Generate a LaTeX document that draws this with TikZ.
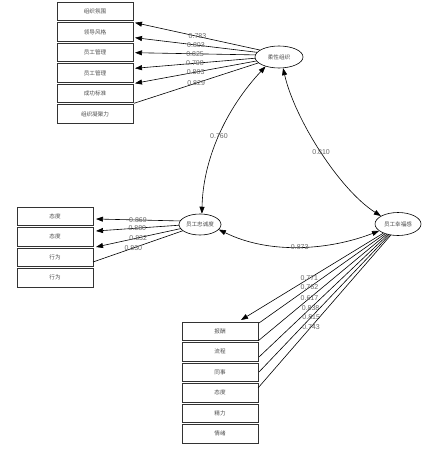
\documentclass[tikz,border=0pt]{standalone}
\usepackage{fontspec}
\setmainfont{Liberation Sans}
\newfontfamily\cjk{Noto Sans CJK SC}
\usepackage{tikz}
\usetikzlibrary{positioning}
\usetikzlibrary{math}
\usetikzlibrary{calc}
\usetikzlibrary{arrows.meta}
\usetikzlibrary{shapes.geometric}

\begin{document}
\begin{tikzpicture}[x=1pt,y=-1pt,line width=0.6pt,
  item/.style={draw=black!80, line width=0.5pt, minimum width=\boxw pt, minimum height=\boxh pt,
    inner sep=0pt, outer sep=0pt, text=black!70, font=\cjk\fontsize{5.6}{6}\selectfont},
  latent/.style={ellipse, draw=black, line width=0.6pt, inner sep=0pt,
    text=black!70, font=\cjk\fontsize{5.6}{6}\selectfont},
  load/.style={-{Triangle[length=7pt,width=5pt]}},
  corr/.style={{Triangle[length=7pt,width=5pt]}-{Triangle[length=7pt,width=5pt]}, line width=0.6pt},
  coef/.style={inner sep=0pt, text=black!60, font=\fontsize{7}{8}\selectfont}]

  \tikzmath{
    \boxw = 76;   % width of the indicator boxes
    \boxh = 18.5; % height of the indicator boxes
    \gap  = 2;    % space between stacked boxes
  }

  \useasboundingbox (0,0) rectangle (435,454);

  % latent variables
  \node[latent, minimum width=48pt, minimum height=22pt] (rou)   at (279,57)    {柔性组织};
  \node[latent, minimum width=42pt, minimum height=21pt] (zhong) at (200,224.5) {员工忠诚度};
  \node[latent, minimum width=46pt, minimum height=23pt] (xing)  at (398,224)   {员工幸福感};

  % indicators of the flexible organisation
  \node[item] (org1) at (95,11.5) {组织氛围};
  \node[item, below=\gap pt of org1] (org2) {领导风格};
  \node[item, below=\gap pt of org2] (org3) {员工管理};
  \node[item, below=\gap pt of org3] (org4) {员工管理};
  \node[item, below=\gap pt of org4] (org5) {成功标准};
  \node[item, below=\gap pt of org5] (org6) {组织凝聚力};

  % indicators of loyalty
  \node[item] (loy1) at (55,216) {态度};
  \node[item, below=\gap pt of loy1] (loy2) {态度};
  \node[item, below=\gap pt of loy2] (loy3) {行为};
  \node[item, below=\gap pt of loy3] (loy4) {行为};

  % indicators of well-being
  \node[item] (wel1) at (220,331) {报酬};
  \node[item, below=\gap pt of wel1] (wel2) {流程};
  \node[item, below=\gap pt of wel2] (wel3) {同事};
  \node[item, below=\gap pt of wel3] (wel4) {态度};
  \node[item, below=\gap pt of wel4] (wel5) {精力};
  \node[item, below=\gap pt of wel5] (wel6) {情绪};

  % end points of the loadings
  \coordinate (t1) at (135,22.7);
  \coordinate (t2) at (135,37.7);
  \coordinate (t3) at (135,52.7);
  \coordinate (t4) at (135,68.3);
  \coordinate (t5) at (135,83.3);
  \coordinate (t6) at (134,103.3);

  \coordinate (m1) at (96,219);
  \coordinate (m2) at (96,231);
  \coordinate (m3) at (96,247);
  \coordinate (m4) at (93,262);

  \coordinate (b1) at (241,320);
  \coordinate (b2) at (259,323);
  \coordinate (b3) at (258,341);
  \coordinate (b4) at (259,357);
  \coordinate (b5) at (259,372);
  \coordinate (b6) at (258,388);

  % loadings of the flexible organisation
  \draw[load] (rou.160) -- (t1) node[coef, pos=0.5] {0.783};
  \draw[load] (rou.168) -- (t2) node[coef, pos=0.5] {0.803};
  \draw[load] (rou.175) -- (t3) node[coef, pos=0.5] {0.825};
  \draw[load] (rou.183) -- (t4) node[coef, pos=0.5] {0.708};
  \draw[load] (rou.190) -- (t5) node[coef, pos=0.5] {0.803};
  \draw (rou.196) -- (t6) node[coef, pos=0.5] {0.829};

  % loadings of loyalty
  \draw[load] (zhong.170) -- (m1) node[coef, pos=0.5] {0.869};
  \draw[load] (zhong.182) -- (m2) node[coef, pos=0.5] {0.880};
  \draw[load] (zhong.192) -- (m3) node[coef, pos=0.5] {0.832};
  \draw (zhong.200) -- (m4) node[coef, pos=0.55] {0.830};

  % loadings of well-being
  \draw[load] (xing.212) -- (b1) node[coef, pos=0.52] {0.771};
  \draw (xing.217) -- (b2) node[coef, pos=0.6] {0.762};
  \draw (xing.222) -- (b3) node[coef, pos=0.6] {0.617};
  \draw (xing.227) -- (b4) node[coef, pos=0.6] {0.838};
  \draw (xing.232) -- (b5) node[coef, pos=0.6] {0.815};
  \draw (xing.237) -- (b6) node[coef, pos=0.6] {0.743};

  % correlations
  \draw[corr] (rou.215) .. controls (225,110) and (203,160) .. (zhong.80)
    node[coef, pos=0.5] {0.760};
  \draw[corr] (rou.290) .. controls (295,120) and (340,190) .. (xing.155)
    node[coef, pos=0.5] {0.810};
  \draw[corr] (zhong.-15) .. controls (270,255) and (330,250) .. (xing.200)
    node[coef, pos=0.5] {0.873};

\end{tikzpicture}
\end{document}
